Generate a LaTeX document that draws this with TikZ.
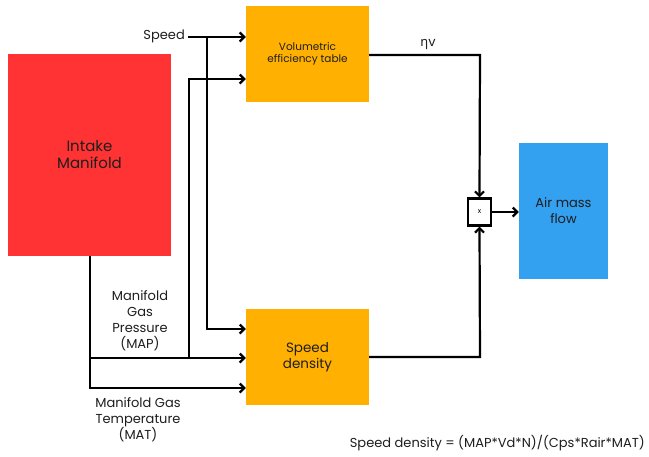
\documentclass[tikz,border=0pt]{standalone}
\usepackage{fontspec}
\setmainfont{Poppins}
\newfontfamily\greekfont{Noto Sans}
\usetikzlibrary{arrows.meta}
\definecolor{cred}{RGB}{255,51,51}
\definecolor{corange}{RGB}{255,176,0}
\definecolor{cblue}{RGB}{51,160,240}
\definecolor{ctext}{RGB}{30,30,30}
\begin{document}
\begin{tikzpicture}[x=1pt,y=-1pt,
  blk/.style={draw=none,minimum width=#1,inner sep=0pt,align=center,text=ctext},
  wire/.style={line width=2.2pt,-{Straight Barb[length=4.5pt,width=9pt,line width=2.2pt]}},
  lbl/.style={align=center,text=ctext,font=\fontsize{13}{16}\selectfont,inner sep=0pt}]
\useasboundingbox (0,0) rectangle (649,456);
\fill[white] (0,0) rectangle (649,456);
% blocks
\node[blk=163pt,fill=cred,minimum height=202pt,font=\fontsize{15}{17}\selectfont] (im) at (89.5,155) {Intake\\Manifold};
\node[blk=123pt,fill=corange,minimum height=96pt,font=\fontsize{10.5}{12.5}\selectfont] (ve) at (307.5,54) {Volumetric\\efficiency table};
\node[blk=123pt,fill=corange,minimum height=96pt,font=\fontsize{13.5}{16}\selectfont] (sd) at (307.5,357) {Speed\\density};
\node[blk=89pt,fill=cblue,minimum height=136pt,font=\fontsize{13}{16}\selectfont] (am) at (563.5,211) {Air mass\\flow};
\node[draw=black,line width=2.2pt,minimum width=23pt,minimum height=27pt,inner sep=0pt,font=\fontsize{7}{8}\selectfont] (mul) at (479.5,212) {x};
% labels
\node[lbl,anchor=east] (speed) at (185,36) {Speed};
\node[lbl] (eta) at (428,44) {{\greekfont η}v};
\node[lbl] (map) at (140,321) {Manifold\\Gas\\Pressure\\(MAP)};
\node[lbl] (mat) at (138,420) {Manifold Gas\\Temperature\\(MAT)};
\node[lbl,anchor=east] (eq) at (645,443) {Speed density = (MAP*Vd*N)/(Cps*Rair*MAT)};
% coordinates
\coordinate (s0) at (188,37);
\coordinate (sj) at (207,37);
\coordinate (sb) at (207,329);
\coordinate (pt) at (189,79);
\coordinate (pj) at (189,358);
\coordinate (mb) at (90,388);
\coordinate (mj) at (90,358);
\coordinate (ec) at (480,55);
\coordinate (dc) at (480,357);
% connectors
\draw[wire] (s0) -- (ve.west |- s0);
\draw[wire] (sj) -- (sb) -- (sd.west |- sb);
\draw[wire] (pj) -- (pt) -- (ve.west |- pt);
\draw[wire] (im.south -| mb) -- (mb) -- (sd.west |- mb);
\draw[wire] (mj) -- (sd.west |- mj);
\draw[wire] (ve.east |- ec) -- (ec) -- (mul.north);
\draw[wire] (sd.east |- dc) -- (dc) -- (mul.south);
\draw[wire] (mul.east) -- (am.west |- mul.east);
\end{tikzpicture}
\end{document}
